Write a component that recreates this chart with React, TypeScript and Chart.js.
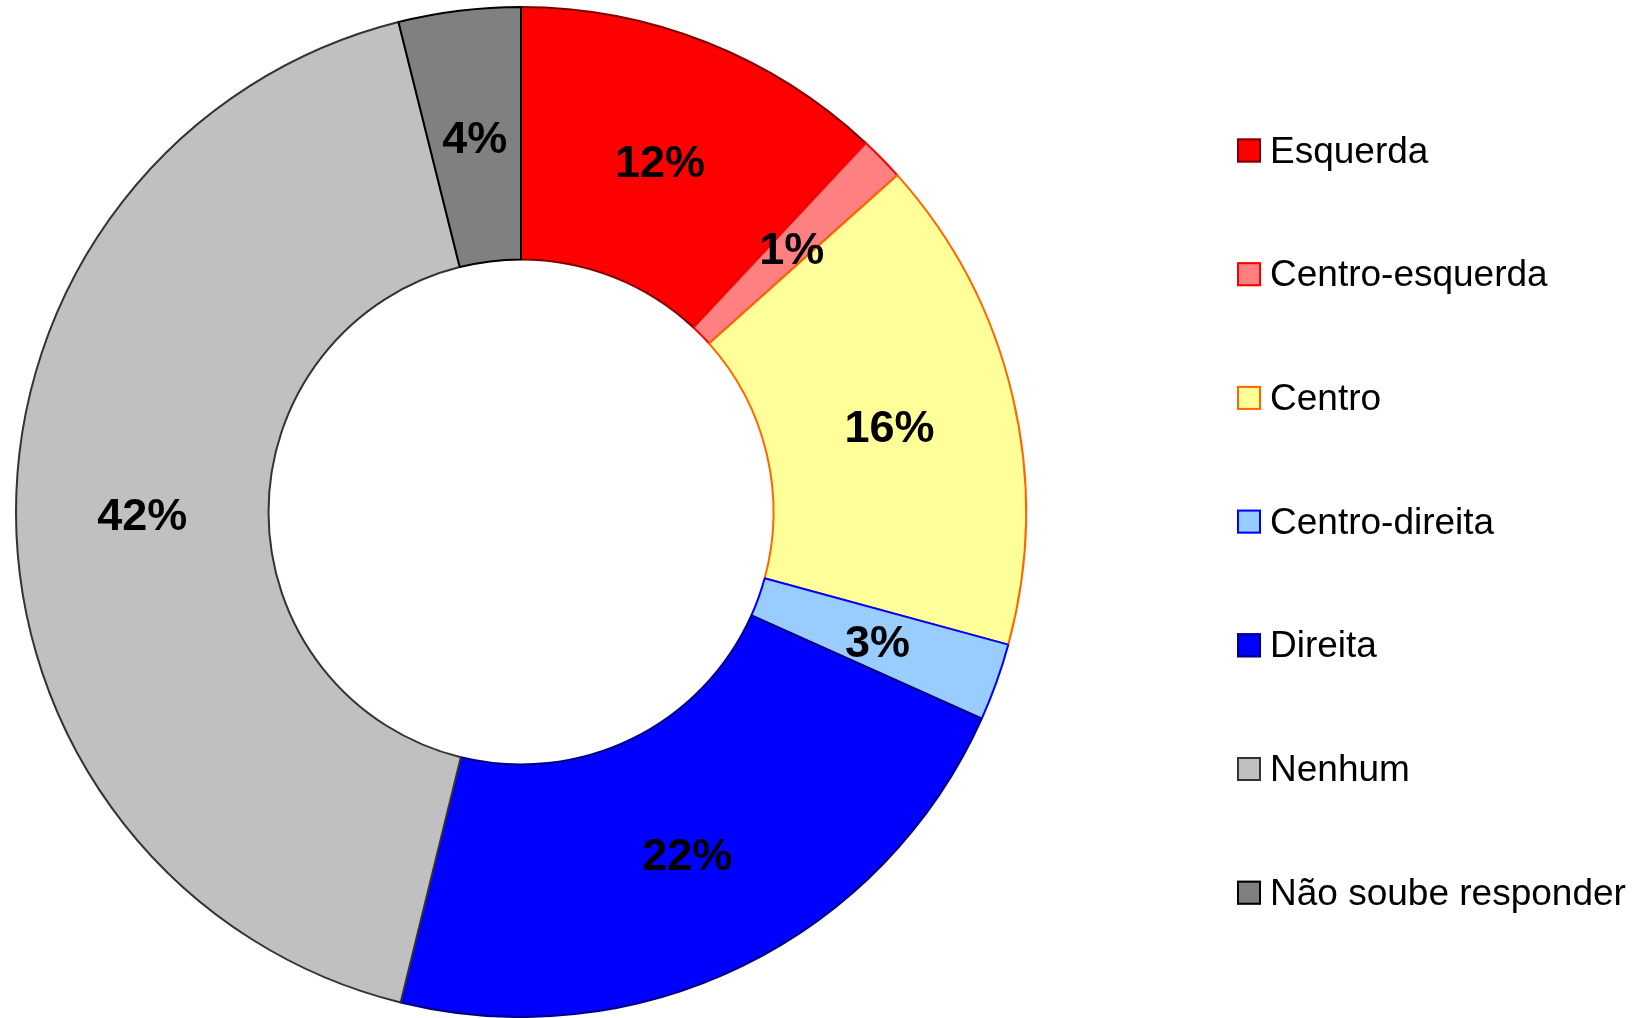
import React, { useEffect, useRef } from "react";
import { Chart, registerables } from "chart.js";

Chart.register(...registerables);

const categories = [
  "Esquerda",
  "Centro-esquerda",
  "Centro",
  "Centro-direita",
  "Direita",
  "Nenhum",
  "Não soube responder",
];
const shares = [11.96, 1.42, 15.85, 2.48, 22.12, 42.27, 3.9];
const shareLabels = ["12%", "1%", "16%", "3%", "22%", "42%", "4%"];
const fillColors = ["#FF0000", "#FF8080", "#FFFF99", "#99CCFF", "#0000FF", "#C0C0C0", "#808080"];
const edgeColors = ["#800000", "#FF0000", "#FF6600", "#0000FF", "#000080", "#333333", "#000000"];

const FONT = "'Liberation Sans', Arial, Helvetica, sans-serif";

const sliceLabelPlugin = {
  id: "sliceLabels",
  afterDatasetsDraw(chart: any) {
    const ctx = chart.ctx;
    const meta = chart.getDatasetMeta(0);
    ctx.save();
    ctx.font = `bold 45px ${FONT}`;
    ctx.fillStyle = "#000000";
    ctx.textAlign = "center";
    ctx.textBaseline = "middle";
    meta.data.forEach((arc: any, i: number) => {
      const p = arc.tooltipPosition();
      ctx.fillText(shareLabels[i], p.x, p.y + 5);
    });
    ctx.restore();
  },
};

const sideLegendPlugin = {
  id: "sideLegend",
  afterDraw(chart: any) {
    const ctx = chart.ctx;
    const labels = chart.data.labels as string[];
    const ds = chart.data.datasets[0] as any;
    const boxX = 1237;
    const firstY = 150.5;
    const step = 123.7;
    const box = 24;
    ctx.save();
    ctx.font = `37px ${FONT}`;
    ctx.textAlign = "left";
    ctx.textBaseline = "alphabetic";
    labels.forEach((lab, i) => {
      const cy = firstY + i * step;
      ctx.fillStyle = ds.backgroundColor[i];
      ctx.fillRect(boxX, cy - box / 2, box, box);
      ctx.lineWidth = 2;
      ctx.strokeStyle = ds.borderColor[i];
      ctx.strokeRect(boxX + 1, cy - box / 2 + 1, box - 2, box - 2);
      ctx.fillStyle = "#000000";
      ctx.fillText(lab, 1270, cy + 12);
    });
    ctx.restore();
  },
};

export default function App() {
  const ref = useRef<HTMLCanvasElement>(null);

  useEffect(() => {
    document.body.style.margin = "0";
    if (!ref.current) return;
    const chart = new Chart(ref.current, {
      type: "doughnut",
      data: {
        labels: categories,
        datasets: [
          {
            data: shares,
            backgroundColor: fillColors,
            borderColor: edgeColors,
            borderWidth: 2,
            hoverOffset: 0,
          },
        ],
      },
      options: {
        responsive: false,
        animation: false,
        cutout: "50%",
        layout: { padding: { left: 0, right: 597, top: 6, bottom: 0 } },
        plugins: {
          legend: { display: false },
          tooltip: { enabled: false },
        },
      },
      plugins: [sliceLabelPlugin, sideLegendPlugin],
    });
    return () => chart.destroy();
  }, []);

  return (
    <div style={{ width: 1639, height: 1018, background: "#ffffff" }}>
      <canvas ref={ref} width={1639} height={1018} style={{ display: "block" }} />
    </div>
  );
}
